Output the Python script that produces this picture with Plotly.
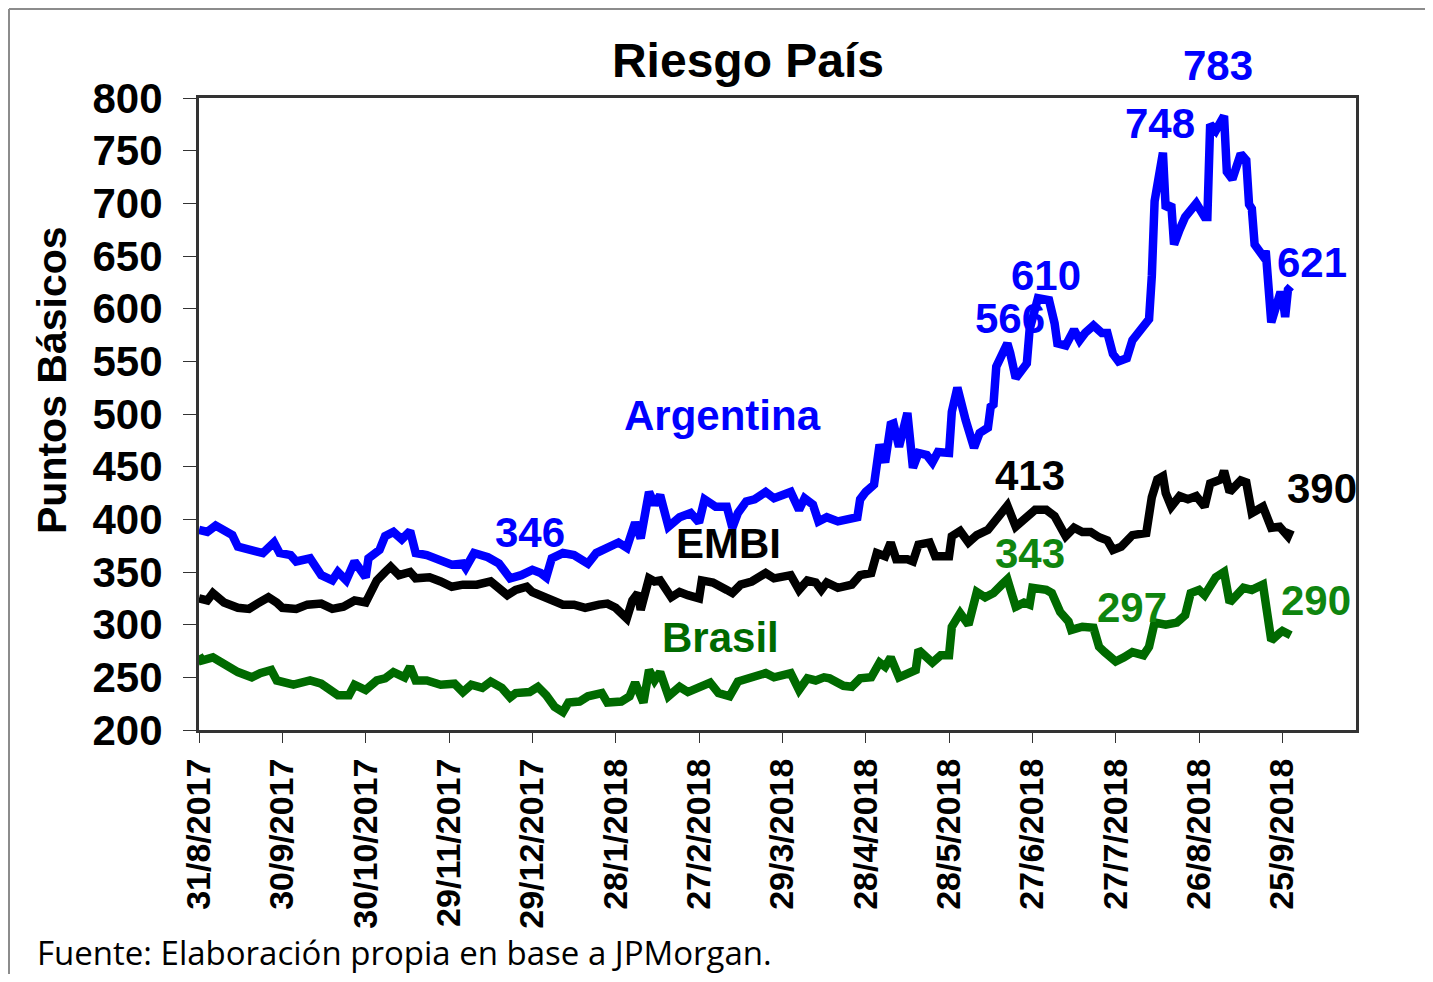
import plotly.graph_objects as go

# Riesgo País - spreads in basis points
ARG_COLOR = "#0000ff"
EMBI_COLOR = "#000000"
BRA_COLOR = "#006a00"
BRA_LABEL = "#0f850f"
FONT = "Liberation Sans, Arial, sans-serif"

arg_dates = [
    "2017-08-31", "2017-09-03", "2017-09-06", "2017-09-09", "2017-09-12", "2017-09-14", "2017-09-18",
    "2017-09-23", "2017-09-27", "2017-09-29", "2017-10-03", "2017-10-05", "2017-10-10", "2017-10-14",
    "2017-10-18", "2017-10-20", "2017-10-23", "2017-10-26", "2017-10-30", "2017-10-31", "2017-11-04",
    "2017-11-06", "2017-11-09", "2017-11-12", "2017-11-15", "2017-11-17", "2017-11-21", "2017-11-26",
    "2017-11-30", "2017-12-04", "2017-12-05", "2017-12-08", "2017-12-13", "2017-12-17", "2017-12-19",
    "2017-12-21", "2017-12-25", "2017-12-29", "2018-01-01", "2018-01-03", "2018-01-05", "2018-01-09",
    "2018-01-13", "2018-01-18", "2018-01-21", "2018-01-25", "2018-01-29", "2018-02-01", "2018-02-04",
    "2018-02-06", "2018-02-09", "2018-02-11", "2018-02-13", "2018-02-16", "2018-02-20", "2018-02-24",
    "2018-02-27", "2018-03-01", "2018-03-05", "2018-03-09", "2018-03-11", "2018-03-13", "2018-03-16",
    "2018-03-19", "2018-03-23", "2018-03-26", "2018-04-01", "2018-04-04", "2018-04-06", "2018-04-09",
    "2018-04-11", "2018-04-14", "2018-04-18", "2018-04-25", "2018-04-26", "2018-04-28", "2018-05-01",
    "2018-05-03", "2018-05-05", "2018-05-07", "2018-05-08", "2018-05-10", "2018-05-13", "2018-05-15",
    "2018-05-17", "2018-05-20", "2018-05-22", "2018-05-24", "2018-05-28", "2018-05-29", "2018-05-31",
    "2018-06-03", "2018-06-06", "2018-06-08", "2018-06-11", "2018-06-12", "2018-06-13", "2018-06-14",
    "2018-06-18", "2018-06-19", "2018-06-21", "2018-06-25", "2018-06-26", "2018-06-29", "2018-07-03",
    "2018-07-05", "2018-07-06", "2018-07-09", "2018-07-12", "2018-07-14", "2018-07-16", "2018-07-19",
    "2018-07-22", "2018-07-24", "2018-07-26", "2018-07-28", "2018-07-31", "2018-08-02", "2018-08-05",
    "2018-08-08", "2018-08-09", "2018-08-10", "2018-08-13", "2018-08-14", "2018-08-16", "2018-08-17",
    "2018-08-19", "2018-08-21", "2018-08-25", "2018-08-28", "2018-08-29", "2018-08-30", "2018-09-01",
    "2018-09-04", "2018-09-05", "2018-09-07", "2018-09-10", "2018-09-12", "2018-09-13", "2018-09-14",
    "2018-09-15", "2018-09-18", "2018-09-19", "2018-09-20", "2018-09-21", "2018-09-24", "2018-09-25",
    "2018-09-26", "2018-09-27", "2018-09-28",
]
arg_values = [
    390, 388, 394, 389, 385, 374, 371,
    368, 378, 368, 366, 360, 363, 347,
    342, 350, 342, 360, 345, 363, 371,
    384, 388, 381, 389, 368, 366, 361,
    357, 358, 354, 368, 364, 358, 350,
    344, 347, 352, 349, 345, 363, 368,
    366, 358, 368, 374, 378, 373, 397,
    382, 426, 414, 423, 393, 402, 406,
    397, 419, 412, 412, 392, 406, 417,
    419, 426, 420, 426, 409, 420, 414,
    398, 402, 398, 402, 419, 426, 433,
    471, 454, 490, 491, 469, 501, 449,
    463, 461, 454, 464, 463, 502, 525,
    494, 468, 482, 487, 507, 509, 545,
    567, 558, 534, 548, 580, 610, 608,
    586, 567, 565, 580, 570, 577, 584,
    577, 577, 557, 550, 553, 570, 581,
    590, 631, 702, 748, 695, 699, 661,
    675, 687, 700, 687, 687, 775, 769,
    783, 730, 723, 747, 741, 699, 695,
    661, 650, 655, 618, 587, 613, 613,
    592, 618, 621,
]

embi_dates = [
    "2017-08-31", "2017-09-03", "2017-09-05", "2017-09-09", "2017-09-14", "2017-09-18", "2017-09-21",
    "2017-09-25", "2017-09-28", "2017-09-30", "2017-10-05", "2017-10-09", "2017-10-14", "2017-10-18",
    "2017-10-22", "2017-10-26", "2017-10-30", "2017-11-03", "2017-11-06", "2017-11-08", "2017-11-11",
    "2017-11-15", "2017-11-17", "2017-11-22", "2017-11-26", "2017-11-30", "2017-12-04", "2017-12-09",
    "2017-12-14", "2017-12-17", "2017-12-20", "2017-12-23", "2017-12-27", "2017-12-29", "2018-01-02",
    "2018-01-06", "2018-01-09", "2018-01-13", "2018-01-17", "2018-01-22", "2018-01-25", "2018-01-28",
    "2018-02-01", "2018-02-03", "2018-02-05", "2018-02-06", "2018-02-09", "2018-02-11", "2018-02-13",
    "2018-02-17", "2018-02-20", "2018-02-23", "2018-02-27", "2018-02-28", "2018-03-04", "2018-03-09",
    "2018-03-11", "2018-03-14", "2018-03-18", "2018-03-23", "2018-03-26", "2018-04-01", "2018-04-04",
    "2018-04-07", "2018-04-10", "2018-04-12", "2018-04-14", "2018-04-18", "2018-04-23", "2018-04-26",
    "2018-04-30", "2018-05-02", "2018-05-05", "2018-05-07", "2018-05-09", "2018-05-13", "2018-05-15",
    "2018-05-17", "2018-05-21", "2018-05-23", "2018-05-28", "2018-05-29", "2018-06-01", "2018-06-04",
    "2018-06-07", "2018-06-11", "2018-06-14", "2018-06-18", "2018-06-21", "2018-06-25", "2018-06-28",
    "2018-07-02", "2018-07-05", "2018-07-09", "2018-07-12", "2018-07-15", "2018-07-18", "2018-07-21",
    "2018-07-24", "2018-07-26", "2018-07-29", "2018-08-02", "2018-08-07", "2018-08-09", "2018-08-11",
    "2018-08-13", "2018-08-14", "2018-08-16", "2018-08-19", "2018-08-22", "2018-08-25", "2018-08-28",
    "2018-08-30", "2018-09-03", "2018-09-04", "2018-09-06", "2018-09-10", "2018-09-12", "2018-09-14",
    "2018-09-18", "2018-09-21", "2018-09-24", "2018-09-27", "2018-09-28",
]
embi_values = [
    325, 323, 330, 321, 316, 315, 320,
    326, 321, 316, 315, 319, 320, 315,
    317, 323, 321, 342, 350, 355, 347,
    350, 344, 345, 341, 336, 338, 338,
    341, 335, 328, 333, 336, 331, 326,
    323, 319, 319, 316, 319, 320, 316,
    306, 323, 330, 314, 344, 341, 342,
    326, 331, 328, 325, 342, 340, 333,
    330, 338, 341, 349, 344, 347, 333,
    342, 340, 333, 340, 335, 338, 347,
    349, 368, 365, 378, 362, 362, 360,
    376, 378, 365, 365, 384, 389, 378,
    385, 390, 399, 413, 393, 403, 409,
    409, 403, 384, 392, 388, 388, 383,
    380, 371, 374, 385, 387, 421, 438,
    441, 425, 412, 422, 419, 422, 412,
    434, 438, 446, 426, 437, 435, 406,
    412, 392, 393, 384, 390,
]

bra_dates = [
    "2017-08-31", "2017-09-01", "2017-09-05", "2017-09-09", "2017-09-14", "2017-09-19", "2017-09-22",
    "2017-09-26", "2017-09-28", "2017-10-04", "2017-10-07", "2017-10-10", "2017-10-14", "2017-10-16",
    "2017-10-20", "2017-10-24", "2017-10-26", "2017-10-30", "2017-11-03", "2017-11-06", "2017-11-09",
    "2017-11-13", "2017-11-15", "2017-11-17", "2017-11-21", "2017-11-26", "2017-12-01", "2017-12-04",
    "2017-12-07", "2017-12-11", "2017-12-14", "2017-12-18", "2017-12-21", "2017-12-23", "2017-12-28",
    "2017-12-31", "2018-01-03", "2018-01-06", "2018-01-09", "2018-01-11", "2018-01-15", "2018-01-18",
    "2018-01-23", "2018-01-25", "2018-01-30", "2018-02-02", "2018-02-04", "2018-02-07", "2018-02-09",
    "2018-02-11", "2018-02-13", "2018-02-16", "2018-02-20", "2018-02-23", "2018-02-27", "2018-03-03",
    "2018-03-06", "2018-03-10", "2018-03-13", "2018-03-18", "2018-03-23", "2018-03-26", "2018-04-01",
    "2018-04-04", "2018-04-07", "2018-04-10", "2018-04-13", "2018-04-15", "2018-04-20", "2018-04-23",
    "2018-04-26", "2018-04-30", "2018-05-03", "2018-05-05", "2018-05-07", "2018-05-10", "2018-05-14",
    "2018-05-16", "2018-05-17", "2018-05-22", "2018-05-25", "2018-05-28", "2018-05-29", "2018-06-01",
    "2018-06-04", "2018-06-07", "2018-06-10", "2018-06-13", "2018-06-16", "2018-06-18", "2018-06-21",
    "2018-06-24", "2018-06-26", "2018-06-27", "2018-07-02", "2018-07-04", "2018-07-07", "2018-07-10",
    "2018-07-11", "2018-07-15", "2018-07-19", "2018-07-21", "2018-07-23", "2018-07-27", "2018-07-30",
    "2018-08-02", "2018-08-06", "2018-08-08", "2018-08-10", "2018-08-14", "2018-08-18", "2018-08-21",
    "2018-08-23", "2018-08-26", "2018-08-28", "2018-09-01", "2018-09-04", "2018-09-06", "2018-09-11",
    "2018-09-14", "2018-09-18", "2018-09-21", "2018-09-24", "2018-09-25", "2018-09-28",
]
bra_values = [
    271, 266, 269, 262, 255, 250, 254,
    257, 247, 243, 244, 247, 244, 241,
    233, 233, 243, 238, 247, 249, 255,
    250, 260, 247, 247, 243, 244, 236,
    243, 240, 246, 240, 231, 235, 236,
    241, 233, 222, 217, 226, 227, 232,
    235, 226, 227, 232, 245, 226, 257,
    247, 255, 232, 241, 236, 241, 245,
    235, 232, 246, 250, 254, 250, 254,
    238, 249, 247, 250, 249, 242, 241,
    249, 250, 264, 260, 269, 250, 254,
    257, 276, 264, 271, 271, 298, 311,
    300, 331, 326, 330, 338, 343, 317,
    321, 319, 335, 333, 330, 312, 303,
    295, 298, 297, 279, 274, 265, 269,
    274, 271, 279, 302, 300, 302, 309,
    330, 333, 328, 345, 350, 321, 335,
    333, 338, 285, 292, 294, 290,
]

tick_dates = [
    "2017-08-31", "2017-09-30", "2017-10-30", "2017-11-29", "2017-12-29", "2018-01-28", "2018-02-27",
    "2018-03-29", "2018-04-28", "2018-05-28", "2018-06-27", "2018-07-27", "2018-08-26", "2018-09-25",
]
tick_text = [
    "31/8/2017", "30/9/2017", "30/10/2017", "29/11/2017", "29/12/2017", "28/1/2018", "27/2/2018",
    "29/3/2018", "28/4/2018", "28/5/2018", "27/6/2018", "27/7/2018", "26/8/2018", "25/9/2018",
]

# text labels: (text, page x px, page y px, color)
labels = [
    ("783", 1218, 66, ARG_COLOR),
    ("748", 1160, 123, ARG_COLOR),
    ("610", 1046, 275, ARG_COLOR),
    ("566", 1010, 318, ARG_COLOR),
    ("621", 1312, 262, ARG_COLOR),
    ("346", 530, 532, ARG_COLOR),
    ("Argentina", 722, 415, ARG_COLOR),
    ("413", 1030, 475, EMBI_COLOR),
    ("390", 1322, 488, EMBI_COLOR),
    ("EMBI", 728, 543, EMBI_COLOR),
    ("343", 1030, 553, BRA_LABEL),
    ("297", 1132, 607, BRA_LABEL),
    ("290", 1316, 600, BRA_LABEL),
    ("Brasil", 720, 637, BRA_COLOR),
]

# page has an 8px body margin; plot area sits at page px 199..1356 x 98..730
PAGE_OFF = 8
W, H = 1433 - 2 * PAGE_OFF, 982 - 2 * PAGE_OFF
L, R, T, B = 199, 1356, 98, 730


def px_x(p):
    return (p - L) / (R - L)


def px_y(p):
    return (B - p) / (B - T)


fig = go.Figure()
for name, xs, ys, color in [
    ("Brasil", bra_dates, bra_values, BRA_COLOR),
    ("EMBI", embi_dates, embi_values, EMBI_COLOR),
    ("Argentina", arg_dates, arg_values, ARG_COLOR),
]:
    fig.add_trace(go.Scatter(x=xs, y=ys, name=name, mode="lines",
                             line=dict(color=color, width=8.5),
                             showlegend=False))

for text, x, y, color in labels:
    fig.add_annotation(x=px_x(x), y=px_y(y), xref="paper", yref="paper",
                       text=f"<b>{text}</b>", showarrow=False,
                       font=dict(family=FONT, size=42, color=color),
                       xanchor="center", yanchor="middle")

fig.add_annotation(x=px_x(52), y=px_y(380), xref="paper", yref="paper",
                   text="<b>Puntos Básicos</b>", textangle=-90, showarrow=False,
                   xanchor="center", yanchor="middle",
                   font=dict(family=FONT, size=41, color="#000000"))
fig.add_annotation(x=px_x(35), y=px_y(952), xref="paper", yref="paper",
                   text="Fuente: Elaboración propia en base a JPMorgan.", showarrow=False,
                   xanchor="left", yanchor="middle",
                   font=dict(family="Open Sans, Noto Sans, sans-serif", size=33, color="#000000"))

# outer frame (top and left edges)
fig.add_shape(type="line", xref="paper", yref="paper", x0=px_x(9), x1=px_x(1440),
              y0=px_y(9), y1=px_y(9), line=dict(color="#8c8c8c", width=2))
fig.add_shape(type="line", xref="paper", yref="paper", x0=px_x(9), x1=px_x(9),
              y0=px_y(9), y1=px_y(990), line=dict(color="#8c8c8c", width=2))

fig.update_layout(
    width=W, height=H,
    paper_bgcolor="white", plot_bgcolor="white",
    margin=dict(l=L - PAGE_OFF, r=W - (R - PAGE_OFF), t=T - PAGE_OFF, b=H - (B - PAGE_OFF)),
    font=dict(family=FONT, color="#000000"),
    title=dict(text="<b>Riesgo País</b>", x=(748 - PAGE_OFF) / W, y=1 - (60 - PAGE_OFF) / H,
               xanchor="center", yanchor="middle",
               font=dict(family=FONT, size=48, color="#000000")),
    xaxis=dict(type="date", range=["2017-08-31", "2018-10-21 12:00"],
               tickvals=tick_dates, ticktext=tick_text, tickangle=-90,
               tickfont=dict(family=FONT, size=34, color="#000000", weight="bold"),
               ticks="outside", ticklen=10, tickwidth=1, tickcolor="#333333",
               showgrid=False, zeroline=False, showline=True, mirror=True,
               linecolor="#333333", linewidth=3, ticklabelstandoff=2),
    yaxis=dict(range=[200, 800], tickvals=list(range(200, 801, 50)),
               tickfont=dict(family=FONT, size=42, color="#000000", weight="bold"),
               ticks="outside", ticklen=13, tickwidth=1, tickcolor="#333333",
               showgrid=False, zeroline=False, showline=True, mirror=True,
               linecolor="#333333", linewidth=3, ticklabelstandoff=12),
)

fig.write_html("out.html")
